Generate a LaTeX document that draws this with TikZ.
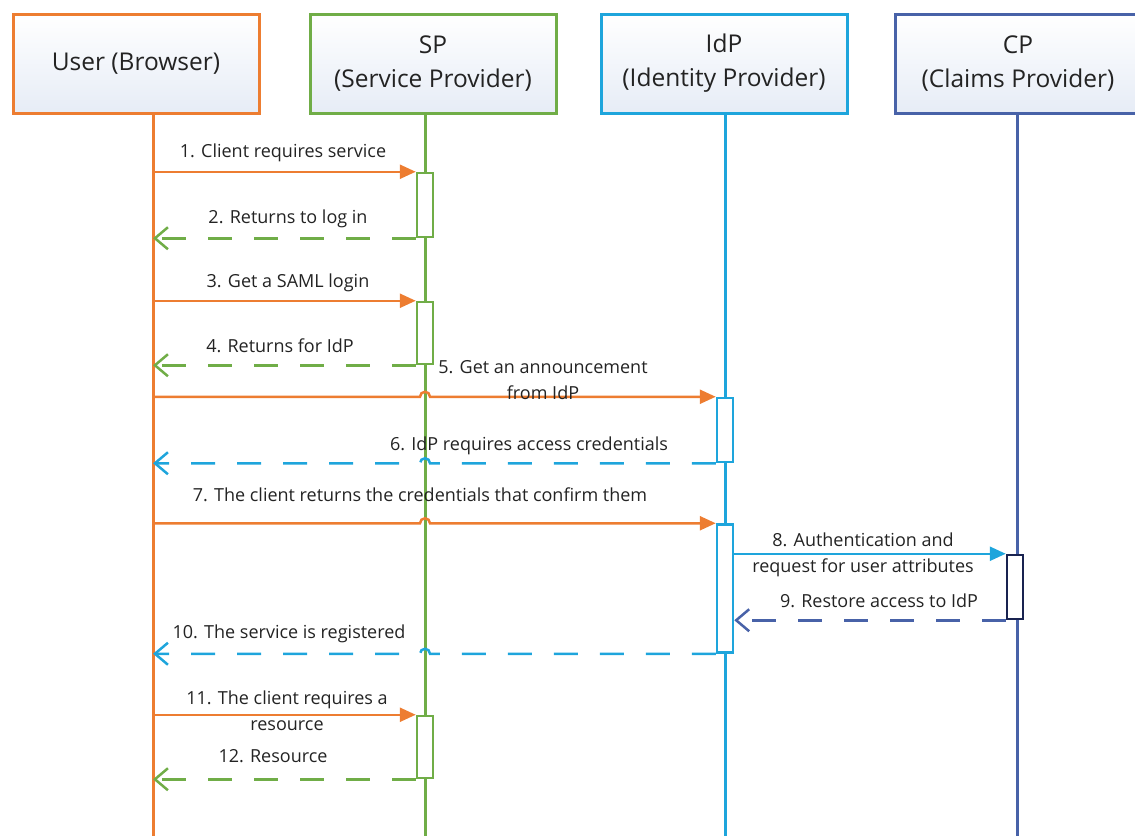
\documentclass[tikz,border=0pt]{standalone}
\usepackage{fontspec}
\setmainfont{Open Sans}
\usetikzlibrary{arrows.meta,calc}

\definecolor{usrorange}{RGB}{237,125,49}
\definecolor{spgreen}{RGB}{112,173,71}
\definecolor{idpblue}{RGB}{30,165,220}
\definecolor{cpblue}{RGB}{72,98,168}
\definecolor{cpnavy}{RGB}{25,35,80}
\definecolor{txtgray}{RGB}{35,35,35}
\definecolor{boxfill}{RGB}{230,236,246}

\begin{document}
\begin{tikzpicture}[x=1pt, y=-1pt,
                hdr/.style = {draw, line width=3pt, top color=white, bottom color=boxfill, minimum width=246pt, minimum height=99pt, align=center, text=txtgray, font=\fontsize{24.5}{34}\selectfont},
                life/.style = {line width=3pt},
                act/.style = {draw, line width=2.5pt, fill=white, minimum width=16pt, inner sep=0pt},
                call/.style = {draw, line width=2.5pt, -{Triangle[length=16pt, width=14pt]}},
                reply/.style = {draw, line width=2.5pt, dash pattern=on 24pt off 22pt, -{Straight Barb[length=13pt, width=22pt]}},
                lbl/.style = {align=center, inner sep=1pt, text=txtgray, font=\fontsize{18}{26}\selectfont},
            ]
            \useasboundingbox (0,0) rectangle (1135,836);

            \node (user) [hdr, draw=usrorange] at (136,63.5) {User (Browser)};
            \node (sp) [hdr, draw=spgreen] at (433,63.5) {SP\\(Service Provider)};
            \node (idp) [hdr, draw=idpblue] at (724,63.5) {IdP\\(Identity Provider)};
            \node (cp) [hdr, draw=cpblue] at (1018,63.5) {CP\\(Claims Provider)};

            \coordinate (uline) at (153,836);
            \coordinate (sline) at (425,836);
            \coordinate (iline) at (725,836);
            \coordinate (cline) at (1017,836);

            \path[life, draw=usrorange] (uline |- user.south) -- (uline);
            \path[life, draw=spgreen] (sline |- sp.south) -- (sline);
            \path[life, draw=idpblue] (iline |- idp.south) -- (iline);
            \path[life, draw=cpblue] (cline |- cp.south) -- (cline);

            \node (actA) [act, draw=spgreen, minimum height=64pt] at (425,205){};
            \node (actB) [act, draw=spgreen, minimum height=62pt] at (425,333){};
            \node (actC) [act, draw=idpblue, minimum height=64pt] at (725,430){};
            \node (actD) [act, draw=idpblue, minimum height=128pt] at (725,588.5){};
            \node (actE) [act, draw=cpnavy, minimum height=64pt] at (1015,587){};
            \node (actF) [act, draw=spgreen, minimum height=62pt] at (425,747){};

            \path[call, draw=usrorange] (uline |- actA.north) -- (actA.north west);
            \path[reply, draw=spgreen] (actA.south west) -- (uline |- actA.south);

            \path[call, draw=usrorange] (uline |- actB.north) -- (actB.north west);
            \path[reply, draw=spgreen] (actB.south west) -- (uline |- actB.south);

            \path[call, draw=usrorange] (uline |- actC.north) -- ($(sline |- actC.north)+(-5,0)$)
                arc[start angle=180, end angle=360, radius=5] -- (actC.north west);
            \path[reply, draw=idpblue] (actC.south west) -- ($(sline |- actC.south)+(5,0)$)
                arc[start angle=0, end angle=-180, radius=5] -- (uline |- actC.south);

            \path[call, draw=usrorange] (uline |- actD.north) -- ($(sline |- actD.north)+(-5,0)$)
                arc[start angle=180, end angle=360, radius=5] -- (actD.north west);

            \path[call, draw=idpblue] (actD.east |- actE.north) -- (actE.north west);
            \path[reply, draw=cpblue] (actE.south west) -- (actD.east |- actE.south);

            \path[reply, draw=idpblue] (actD.south west) -- ($(sline |- actD.south)+(5,0)$)
                arc[start angle=0, end angle=-180, radius=5] -- (uline |- actD.south);

            \path[call, draw=usrorange] (uline |- actF.north) -- (actF.north west);
            \path[reply, draw=spgreen] (actF.south west) -- (uline |- actF.south);

            \node (l1) [lbl] at (283,153) {1. Client requires service};
            \node (l2) [lbl] at (288,219) {2. Returns to log in};
            \node (l3) [lbl] at (288,283) {3. Get a SAML login};
            \node (l4) [lbl] at (280,346) {4. Returns for IdP};
            \node (l5) [lbl] at (543,380) {5. Get an announcement\\from IdP};
            \node (l6) [lbl] at (529,446) {6. IdP requires access credentials};
            \node (l7) [lbl] at (420,495) {7. The client returns the credentials that confirm them};
            \node (l8) [lbl] at (863,555) {8. Authentication and\\request for user attributes};
            \node (l9) [lbl] at (879,601) {9. Restore access to IdP};
            \node (l10) [lbl] at (289,634) {10. The service is registered};
            \node (l11) [lbl] at (287,711) {11. The client requires a\\resource};
            \node (l12) [lbl] at (273,756) {12. Resource};
        \end{tikzpicture}
\end{document}
